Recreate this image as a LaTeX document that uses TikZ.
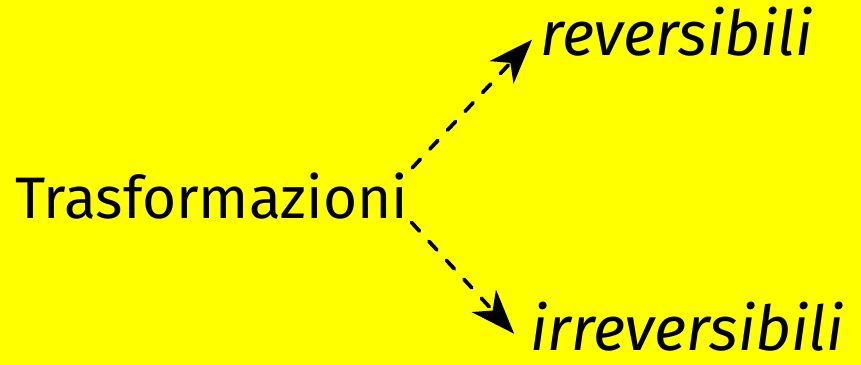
\documentclass[tikz,border=0pt]{standalone}
\usepackage{fontspec}
\setmainfont{Fira Sans}
\usetikzlibrary{arrows.meta}
\definecolor{bgyellow}{HTML}{FFFF00}
\tikzset{
  word/.style  ={inner sep=0pt, font=\fontsize{50}{54}\selectfont, text=black},
  iword/.style ={word, font=\fontsize{53}{56}\selectfont\itshape},
  flow/.style  ={draw=black, line width=3.2pt, line cap=round,
                 dash pattern=on 10pt off 12pt,
                 -{Stealth[length=38pt,width=28pt,inset=11pt]}},
}

\begin{document}
\begin{tikzpicture}[x=0.03cm, y=-0.03cm]

% ---------------- background ----------------
\fill[bgyellow] (0,0) rectangle (861,365);
\useasboundingbox (0,0) rectangle (861,365);

% ---------------- words ----------------
\node[word,  anchor=base west] (trasf) at ( 15,218) {Trasformazioni};
\node[iword, anchor=base west] (rev)   at (540, 55) {reversibili};
\node[iword, anchor=base west] (irrev) at (530,350) {irreversibili};

% ---------------- arrows ----------------
\draw[flow, shorten <=5pt, shorten >=10pt] (trasf.north east) -- (rev.west);
\draw[flow, shorten <=4pt, shorten >=20pt] (trasf.south east) -- (irrev.south west);

\end{tikzpicture}
\end{document}
